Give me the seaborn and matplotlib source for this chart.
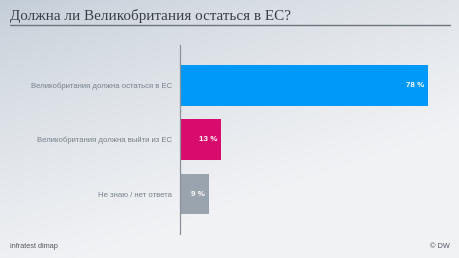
import numpy as np
import matplotlib
matplotlib.use("Agg")
import matplotlib.pyplot as plt
import seaborn as sns
import pandas as pd

categories = ["Великобритания должна остаться в ЕС",
              "Великобритания должна выйти из ЕС",
              "Не знаю / нет ответа"]
values = [78, 13, 9]
value_labels = ["78 %", "13 %", "9 %"]
colors = ["#0099fa", "#d80c6c", "#9aa4af"]
title = "Должна ли Великобритания остаться в ЕС?"
source = "infratest dimap"
credit = "© DW"

sns.set_theme(style="white")
plt.rcParams['font.family'] = ['Liberation Sans', 'DejaVu Sans']

W, H = 460, 258
fig = plt.figure(figsize=(W/100, H/100), dpi=100)

# background gradient
bg = fig.add_axes([0, 0, 1, 1])
xx, yy = np.meshgrid(np.linspace(0, 1, 200), np.linspace(0, 1, 120))
t = np.clip(0.55 * xx + 0.9 * yy, 0, 1)
t = t ** 0.7
c0 = np.array([0.76, 0.80, 0.84])
c1 = np.array([0.945, 0.95, 0.96])
img = c0[None, None, :] * (1 - t[..., None]) + c1[None, None, :] * t[..., None]
bg.imshow(img, aspect='auto', extent=[0, 1, 0, 1], origin='upper')
bg.set_axis_off()

# title and underline
fig.text(10/W, 1 - 16/H, title, fontsize=10.9, family=['Liberation Serif', 'DejaVu Serif'],
         color="#3a3f45", va='center', ha='left')
bg.plot([10/W, 450/W], [1 - 25/H, 1 - 25/H], color="#6f757c", lw=1.0,
        transform=fig.transFigure)

# footer
fig.text(10/W, 1 - 246/H, source, fontsize=5.3, color="#555b62", va='center', ha='left')
fig.text(450/W, 1 - 246/H, credit, fontsize=5.3, color="#555b62", va='center', ha='right')

# main axes
ax_left, ax_right = 180, 460
ax_top, ax_bot = 45, 234
ax = fig.add_axes([ax_left/W, 1 - ax_bot/H, (ax_right - ax_left)/W, (ax_bot - ax_top)/H])
ax.patch.set_alpha(0)
df = pd.DataFrame({"cat": categories, "val": values})
sns.barplot(data=df, x="val", y="cat", hue="cat", palette=colors, legend=False,
            width=0.75, ax=ax, saturation=1, linewidth=0)
px_per_pct = 248/78
ax.set_xlim(0, (ax_right - ax_left)/px_per_pct)
ax.set_ylim(2.734, -0.743)
for s in ["top", "right", "bottom"]:
    ax.spines[s].set_visible(False)
ax.spines["left"].set_color("#8a929b")
ax.spines["left"].set_linewidth(0.9)
ax.set_xticks([])
ax.set_xlabel("")
ax.set_ylabel("")
ax.tick_params(axis='y', length=0, pad=6, labelsize=5.6, labelcolor="#78818b")

for i, (v, lab) in enumerate(zip(values, value_labels)):
    ax.text(v - 1.2, i, lab, ha='right', va='center', color='white',
            fontsize=5.8, fontweight='bold')

fig.savefig("out.png", dpi=100)
